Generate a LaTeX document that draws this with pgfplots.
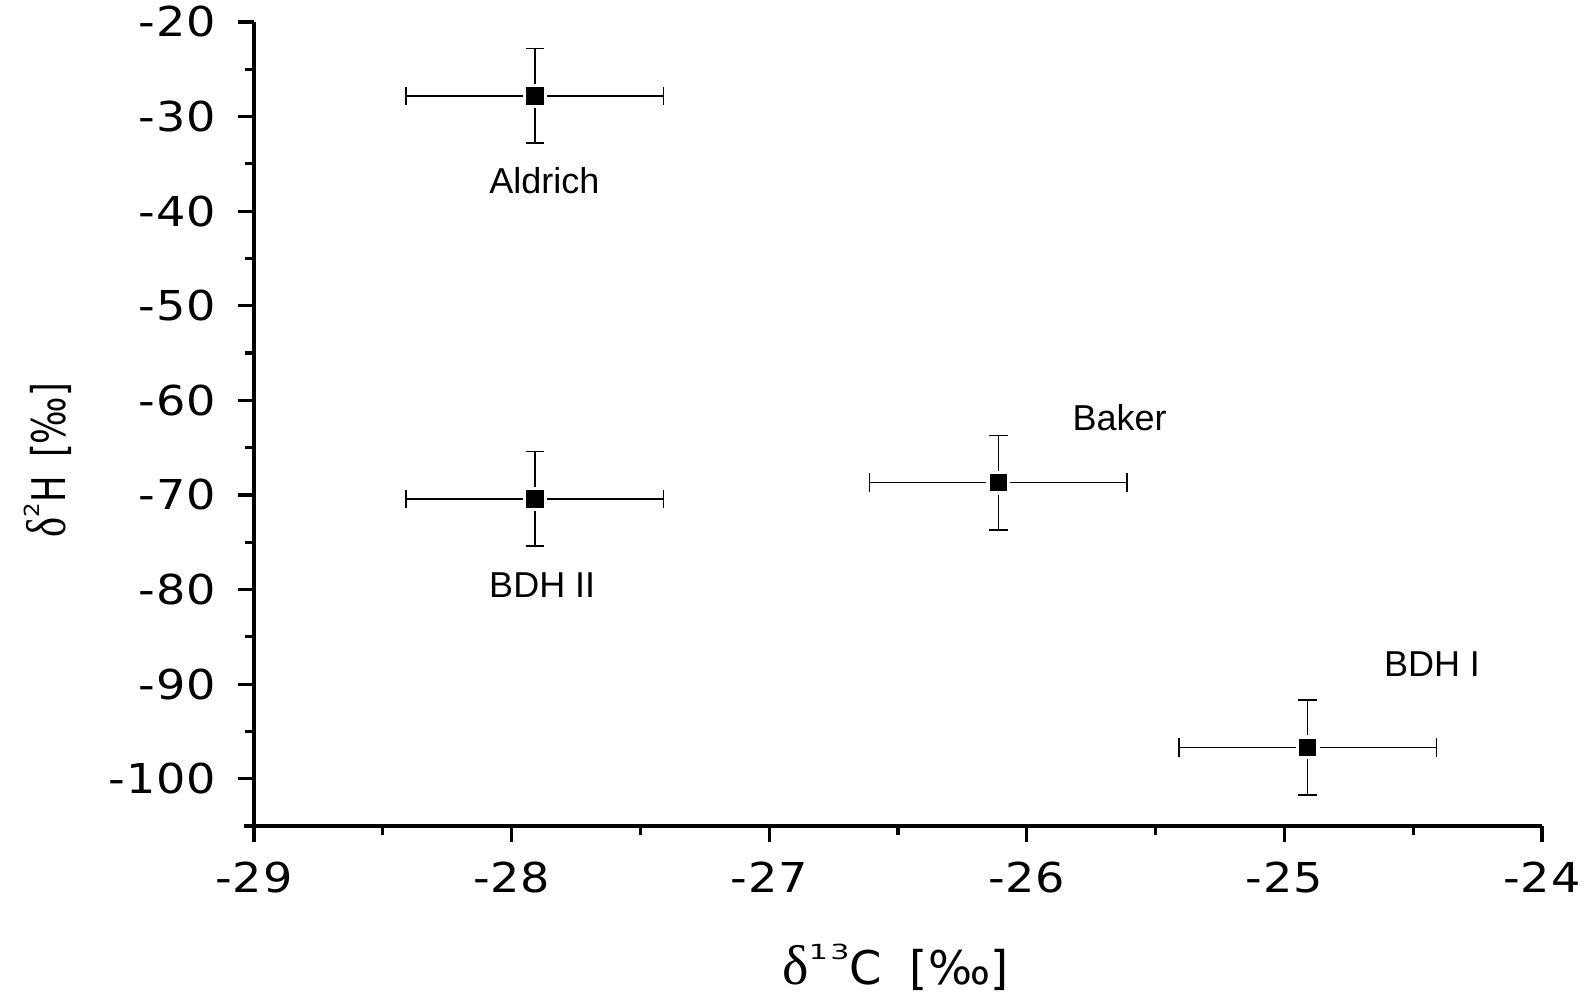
\documentclass[border=0pt]{standalone}
\usepackage{fontspec}
\usepackage{graphicx}
\usepackage{pgfplots}
\pgfplotsset{compat=1.18}
\setmainfont{Liberation Sans}
\newfontfamily\tickfont[FakeStretch=1.12,LetterSpace=2]{DejaVu Sans}
\newfontfamily\labfont{DejaVu Sans}
\newfontfamily\supfont[FakeStretch=1.45,LetterSpace=12]{DejaVu Sans}
\newfontfamily\deltafont{Liberation Serif}
% small, widened superscript as in the original export
\newcommand{\sups}[1]{\raisebox{6.3pt}{\fontsize{5.2}{6}\supfont #1}}
\newcommand{\dlt}{{\fontsize{14}{14}\deltafont δ}}

\pgfplotstableread{
x      y      ex   ey
-27.91 -27.8  0.5  5
-27.91 -70.4  0.5  5
-26.11 -68.7  0.5  5
-24.91 -96.7  0.5  5
}\samples

\begin{document}
\begin{tikzpicture}
\begin{axis}[
  scale only axis,
  width=322pt, height=201pt,
  xmin=-29, xmax=-24, ymin=-105, ymax=-20,
  axis lines*=left,
  axis line style={line width=0.8pt},
  x axis line style={shorten <=-2.5pt},
  tick align=outside,
  xtick={-29,-28,...,-24},
  ytick={-100,-90,...,-20},
  minor x tick num=1, minor y tick num=1,
  major tick length=4pt, minor tick length=2.2pt,
  tick style={line width=0.8pt, black},
  /pgf/number format/assume math mode=true,
  tick label style={font=\fontsize{10.3}{12}\tickfont},
  xticklabel style={yshift=-1.5pt},
  yticklabel style={xshift=-2pt},
  xlabel={\dlt\sups{13}C\hspace{7pt}[‰]},
  ylabel={\scalebox{0.76}[1]{\dlt\sups{2}H\hspace{6pt}[‰]}},
  label style={font=\fontsize{11.6}{13}\labfont},
  xlabel style={at={(axis description cs:0.498,-0.176)}, anchor=center},
  ylabel style={at={(axis description cs:-0.160,0.455)}, anchor=center},
  clip=false,
]
\addplot+[only marks, black, mark=square*,
  mark options={fill=black, draw=white, line width=0.8pt, mark size=2.6pt},
  error bars/.cd,
  x dir=both, x explicit, y dir=both, y explicit,
  error bar style={line width=0.4pt, black},
  error mark options={line width=0.4pt, black, mark size=2.3pt, rotate=90},
] table[x=x, y=y, x error=ex, y error=ey] {\samples};
\node[font=\fontsize{9}{10}\selectfont] at (axis cs:-27.873,-36.82) {Aldrich};
\node[font=\fontsize{9}{10}\selectfont] at (axis cs:-27.881,-79.49) {BDH II};
\node[font=\fontsize{9}{10}\selectfont] at (axis cs:-25.640,-61.82) {Baker};
\node[font=\fontsize{9}{10}\selectfont] at (axis cs:-24.427,-87.88) {BDH I};
\end{axis}
\pgfresetboundingbox
\path (current axis.south west) ++(-63.5pt,-41.5pt) rectangle ++(396pt,248pt);
\end{tikzpicture}
\end{document}
